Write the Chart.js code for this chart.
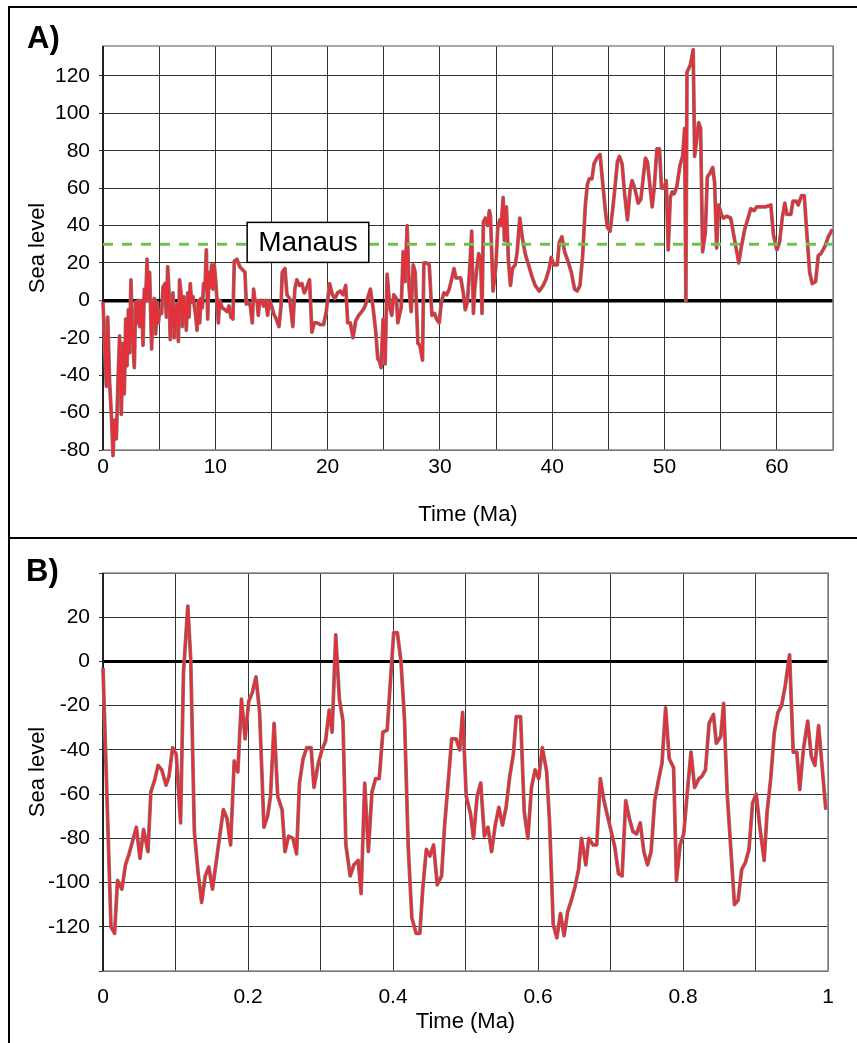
<!DOCTYPE html>
<html>
<head>
<meta charset="utf-8">
<title>Sea level</title>
<script src="https://cdn.jsdelivr.net/npm/chart.js@4.4.1/dist/chart.umd.min.js"></script>
<style>
    html, body { margin: 0; padding: 0; background: #fff; }
    #page { position: relative; width: 857px; height: 1043px; overflow: hidden; font-family: 'Liberation Sans', Arial, Helvetica, sans-serif; }
    #page canvas { position: absolute; left: 0; }
    .frame { position: absolute; left: 8px; width: 900px; border-left: 2px solid #000; border-top: 2px solid #000; }
    #frame-a { top: 6px; height: 540px; }
    #frame-b { top: 537px; height: 520px; }
    .panel-tag { position: absolute; font-weight: bold; font-size: 31px; line-height: 1; color: #000; }
</style>
</head>
<body>
<div id="page">
    <div class="frame" id="frame-a"></div>
    <div class="frame" id="frame-b"></div>
    <canvas id="chart-a" width="857" height="537" style="top:0"></canvas>
    <canvas id="chart-b" width="857" height="506" style="top:537px"></canvas>
    <div class="panel-tag" style="left:27px;top:22px">A)</div>
    <div class="panel-tag" style="left:26px;top:555px">B)</div>
</div>
<script>
// Panel A: last 65 Ma (time in Ma, sea level in m)
var timeA = [
    0, 0.30, 0.42, 0.59, 0.77, 0.89, 1.04, 1.19, 1.34, 1.48,
    1.63, 1.78, 1.90, 2.02, 2.14, 2.26, 2.37, 2.49, 2.61, 2.79,
    2.91, 3.03, 3.15, 3.26, 3.44, 3.56, 3.68, 3.80, 3.92, 4.04,
    4.15, 4.33, 4.45, 4.57, 4.69, 4.81, 4.93, 5.04, 5.22, 5.34,
    5.52, 5.64, 5.76, 5.88, 5.99, 6.11, 6.23, 6.35, 6.47, 6.59,
    6.71, 6.82, 6.94, 7.06, 7.18, 7.30, 7.42, 7.54, 7.66, 7.77,
    7.89, 8.01, 8.13, 8.25, 8.37, 8.49, 8.61, 8.72, 8.84, 8.96,
    9.08, 9.20, 9.32, 9.44, 9.55, 9.67, 9.79, 9.91, 10.03, 10.15,
    10.27, 10.39, 10.62, 10.86, 11.04, 11.22, 11.39, 11.57, 11.69, 11.93,
    12.17, 12.64, 12.76, 12.94, 13.12, 13.29, 13.41, 13.53, 13.71, 13.83,
    13.95, 14.12, 14.30, 14.48, 14.66, 14.84, 15.01, 15.19, 15.43, 15.67,
    15.85, 15.96, 16.20, 16.38, 16.62, 16.90, 17.08, 17.26, 17.50, 17.71,
    17.92, 18.15, 18.39, 18.60, 18.81, 19.05, 19.35, 19.64, 19.88, 20.18,
    20.42, 20.65, 20.89, 21.13, 21.37, 21.61, 21.79, 22.02, 22.26, 22.50,
    22.77, 23.04, 23.27, 23.51, 23.81, 24.05, 24.29, 24.46, 24.64, 24.76,
    24.94, 25.12, 25.30, 25.54, 25.71, 25.89, 26.13, 26.25, 26.43, 26.55,
    26.73, 26.90, 27.08, 27.26, 27.44, 27.62, 27.80, 28.04, 28.21, 28.45,
    28.57, 28.81, 29.05, 29.29, 29.52, 29.70, 29.94, 30.12, 30.36, 30.60,
    30.83, 31.07, 31.25, 31.43, 31.85, 32.08, 32.26, 32.44, 32.62, 32.83,
    32.98, 33.10, 33.27, 33.45, 33.63, 33.75, 33.87, 34.05, 34.26, 34.40,
    34.50, 34.73, 34.97, 35.15, 35.33, 35.45, 35.63, 35.74, 35.92, 36.10,
    36.28, 36.46, 36.70, 36.88, 37.11, 37.35, 37.59, 37.89, 38.18, 38.48,
    38.84, 39.20, 39.43, 39.73, 39.91, 40.15, 40.45, 40.63, 40.86, 41.10,
    41.40, 41.70, 41.99, 42.23, 42.47, 42.71, 42.95, 43.13, 43.30, 43.54,
    43.72, 43.96, 44.26, 44.49, 44.73, 44.91, 45.15, 45.39, 45.63, 45.80,
    45.98, 46.22, 46.46, 46.70, 46.93, 47.11, 47.35, 47.65, 47.89, 48.13,
    48.30, 48.48, 48.72, 48.90, 49.08, 49.32, 49.55, 49.73, 49.97, 50.15,
    50.33, 50.51, 50.68, 50.86, 51.10, 51.37, 51.61, 51.79, 51.90, 52.00,
    52.30, 52.55, 52.68, 52.86, 53.04, 53.21, 53.39, 53.63, 53.81, 54.05,
    54.29, 54.46, 54.64, 54.82, 55.06, 55.24, 55.54, 55.89, 56.13, 56.37,
    56.61, 56.85, 57.14, 57.44, 57.68, 57.98, 58.21, 58.63, 58.99, 59.46,
    59.70, 60.00, 60.24, 60.48, 60.71, 60.89, 61.25, 61.43, 61.73, 61.90,
    62.20, 62.44, 62.68, 62.92, 63.15, 63.45, 63.69, 63.93, 64.29, 64.58,
    64.94
];
var levelA = [
    -1, -46, -9, -44, -64, -83, -64, -74, -42, -19,
    -61, -23, -50, -10, -35, -5, -28, 11, -17, -36,
    -1, -12, 0, -14, 0, -24, 6, 0, 22, 0,
    15, -26, -2, 1, -18, -1, -12, -6, -7, 7,
    9, -9, 18, 4, -21, -9, 4, -20, -5, -2,
    -22, 11, 4, -14, 2, -3, -16, 4, -9, 9,
    -1, 2, -3, -8, -16, 0, -12, 1, -4, 9,
    6, 27, -10, 15, 7, 19, 6, 19, 11, 0,
    -12, 0, -4, -5, -6, -3, -9, -10, 21, 22,
    18, 15, -2, -1, -3, -12, 6, 0, 0, -8,
    0, 0, -3, 0, -8, 0, -3, -7, -10, -14,
    -3, 15, 17, 3, 1, -14, 6, 11, 8, 9,
    4, 7, 11, -17, -12, -12, -13, -13, -6, 9,
    3, 1, 4, 5, 3, 8, -12, -12, -20, -11,
    -8, -6, -4, 0, 6, -4, -17, -31, -33, -36,
    -10, -34, 14, -4, -8, 3, 1, -12, -7, -4,
    26, 10, 40, 6, -6, 19, 15, -23, -24, -32,
    20, 20, 19, -8, -7, -10, -12, -1, 4, 3,
    6, 12, 17, 12, 12, 4, -5, -1, 14, 37,
    -7, 6, 16, 25, 22, -7, 42, 44, 40, 48,
    45, 5, 17, 39, 43, 40, 55, 32, 50, 21,
    8, 17, 19, 26, 44, 33, 25, 19, 13, 8,
    5, 8, 11, 17, 23, 19, 19, 31, 34, 26,
    21, 15, 6, 5, 8, 24, 51, 62, 65, 65,
    73, 76, 78, 63, 48, 39, 37, 49, 63, 74,
    77, 73, 56, 43, 59, 64, 60, 52, 54, 67,
    76, 74, 60, 50, 60, 81, 81, 60, 60, 64,
    27, 55, 58, 57, 61, 72, 77, 92, 0, 122,
    126, 134, 77, 86, 95, 92, 26, 36, 66, 68,
    71, 63, 28, 51, 46, 44, 45, 44, 36, 28,
    20, 29, 38, 44, 49, 48, 50, 50, 50, 51,
    35, 27, 31, 44, 52, 46, 46, 53, 53, 51,
    56, 56, 35, 15, 9, 10, 24, 25, 29, 34,
    38
];

// Panel B: last 1 Ma
var timeB = [
    0, 0.011, 0.016, 0.020, 0.026, 0.031, 0.036, 0.041, 0.046, 0.051,
    0.056, 0.062, 0.066, 0.071, 0.076, 0.081, 0.087, 0.091, 0.096, 0.101,
    0.107, 0.111, 0.117, 0.121, 0.126, 0.131, 0.136, 0.141, 0.146, 0.151,
    0.156, 0.161, 0.166, 0.171, 0.176, 0.181, 0.186, 0.191, 0.196, 0.201,
    0.206, 0.211, 0.216, 0.222, 0.227, 0.231, 0.236, 0.241, 0.247, 0.251,
    0.256, 0.262, 0.267, 0.271, 0.276, 0.281, 0.287, 0.291, 0.297, 0.302,
    0.307, 0.312, 0.316, 0.321, 0.326, 0.331, 0.335, 0.341, 0.346, 0.352,
    0.356, 0.361, 0.366, 0.371, 0.376, 0.381, 0.386, 0.392, 0.396, 0.401,
    0.406, 0.411, 0.416, 0.421, 0.426, 0.432, 0.437, 0.441, 0.446, 0.451,
    0.456, 0.461, 0.467, 0.471, 0.476, 0.481, 0.487, 0.492, 0.496, 0.501,
    0.507, 0.511, 0.516, 0.521, 0.526, 0.531, 0.536, 0.541, 0.546, 0.551,
    0.556, 0.561, 0.566, 0.570, 0.576, 0.581, 0.586, 0.591, 0.596, 0.601,
    0.606, 0.612, 0.616, 0.621, 0.626, 0.631, 0.636, 0.641, 0.646, 0.651,
    0.656, 0.660, 0.666, 0.670, 0.676, 0.681, 0.686, 0.691, 0.696, 0.706,
    0.711, 0.716, 0.721, 0.726, 0.731, 0.736, 0.741, 0.746, 0.751, 0.756,
    0.761, 0.766, 0.771, 0.776, 0.781, 0.787, 0.791, 0.796, 0.801, 0.806,
    0.811, 0.816, 0.822, 0.826, 0.831, 0.836, 0.842, 0.846, 0.852, 0.856,
    0.861, 0.866, 0.871, 0.876, 0.881, 0.886, 0.891, 0.896, 0.901, 0.906,
    0.912, 0.916, 0.921, 0.926, 0.931, 0.936, 0.941, 0.947, 0.952, 0.957,
    0.961, 0.966, 0.972, 0.977, 0.982, 0.987, 0.997
];
var levelB = [
    -3, -120, -123, -99, -103, -92, -87, -81, -75, -89,
    -76, -86, -59, -54, -47, -49, -56, -52, -39, -42,
    -73, -5, 25, 1, -77, -95, -109, -97, -93, -103,
    -91, -79, -67, -71, -83, -45, -50, -17, -35, -18,
    -14, -7, -23, -75, -70, -61, -28, -61, -67, -86,
    -79, -80, -87, -55, -44, -39, -39, -57, -46, -40,
    -36, -22, -32, 12, -17, -27, -83, -97, -92, -90,
    -105, -55, -86, -59, -53, -53, -32, -31, -11, 13,
    13, 0, -27, -84, -116, -123, -123, -103, -85, -88,
    -83, -101, -97, -75, -55, -35, -35, -40, -23, -61,
    -69, -80, -61, -55, -79, -75, -86, -74, -66, -74,
    -66, -52, -42, -25, -25, -68, -80, -57, -49, -53,
    -39, -50, -73, -119, -125, -114, -124, -113, -108, -102,
    -94, -80, -92, -80, -83, -83, -53, -63, -70, -84,
    -96, -97, -63, -71, -77, -78, -73, -86, -92, -86,
    -63, -54, -46, -21, -44, -48, -99, -83, -78, -59,
    -41, -57, -53, -52, -49, -28, -24, -37, -34, -19,
    -60, -85, -110, -108, -94, -91, -85, -64, -60, -75,
    -90, -68, -53, -32, -23, -20, -11, 3, -41, -41,
    -58, -40, -27, -43, -47, -29, -67
];

// reference level for Manaus
var manausLevel = 30;
var manausLabel = 'Manaus';
var manausLabelTime = 18.25;
var manausLabelLevel = 31;

(function (window, document) {
    'use strict';

    var FONT = "'Liberation Sans', Arial, Helvetica, sans-serif";
    var RED = '#e1323b';
    var GRID = '#333';
    var TICK_SIZE = 21;
    var TITLE_SIZE = 22;

    Chart.defaults.font.family = FONT;
    Chart.defaults.color = '#000';

    function toPoints(xs, ys) {
        return xs.map(function (x, i) {
            return { x: x, y: ys[i] };
        });
    }

    function seriesDatasets(points) {
        return [
            {
                data: points,
                borderColor: RED,
                borderWidth: 2.6,
                borderJoinStyle: 'round',
                pointRadius: 0,
                tension: 0,
                clip: false,
                order: 1,
            },
            {
                // grey fringe under the red line
                data: points,
                borderColor: '#808080',
                borderWidth: 3.8,
                borderJoinStyle: 'round',
                pointRadius: 0,
                tension: 0,
                clip: false,
                order: 2,
            },
        ];
    }

    // grey box round the plot area, black left axis
    var framePlugin = {
        id: 'plotFrame',
        beforeDatasetsDraw: function (chart) {
            var a = chart.chartArea;
            var ctx = chart.ctx;
            ctx.save();
            ctx.lineWidth = 1.5;
            ctx.strokeStyle = '#8a8a8a';
            ctx.strokeRect(a.left, a.top, a.right - a.left, a.bottom - a.top);
            ctx.strokeStyle = '#000';
            ctx.beginPath();
            ctx.moveTo(a.left, a.top);
            ctx.lineTo(a.left, a.bottom);
            ctx.stroke();
            ctx.restore();
        },
    };

    var manausPlugin = {
        id: 'manausLabel',
        afterDatasetsDraw: function (chart) {
            var ctx = chart.ctx;
            var cx = chart.scales.x.getPixelForValue(manausLabelTime);
            var cy = chart.scales.y.getPixelForValue(manausLabelLevel);
            ctx.save();
            ctx.font = '28px ' + FONT;
            var w = ctx.measureText(manausLabel).width + 22;
            var h = 40;
            ctx.fillStyle = '#fff';
            ctx.fillRect(cx - w / 2, cy - h / 2, w, h);
            ctx.lineWidth = 1.5;
            ctx.strokeStyle = '#000';
            ctx.strokeRect(cx - w / 2, cy - h / 2, w, h);
            ctx.fillStyle = '#000';
            ctx.textAlign = 'center';
            ctx.textBaseline = 'middle';
            ctx.fillText(manausLabel, cx, cy + 1);
            ctx.restore();
        },
    };

    function gridOptions(zeroWidth) {
        return {
            color: function (c) {
                return c.tick && c.tick.value === 0 ? '#000' : GRID;
            },
            lineWidth: function (c) {
                return c.tick && c.tick.value === 0 ? zeroWidth : 1;
            },
            tickColor: GRID,
            tickWidth: 1,
            tickLength: 4,
        };
    }

    function baseOptions() {
        return {
            responsive: false,
            animation: false,
            devicePixelRatio: 1,
            events: [],
            plugins: {
                legend: { display: false },
                tooltip: { enabled: false },
            },
        };
    }

    function createPanelA() {
        var canvas = document.getElementById('chart-a');
        var points = toPoints(timeA, levelA);
        var datasets = seriesDatasets(points);

        datasets.push({
            data: [{ x: 0, y: manausLevel }, { x: 65, y: manausLevel }],
            borderColor: '#6fc04c',
            borderWidth: 3,
            borderDash: [10, 9],
            pointRadius: 0,
            clip: false,
            order: 0,
        });

        var options = baseOptions();
        options.layout = { padding: { top: 46, right: 24, bottom: 0, left: 0 } };
        options.scales = {
            x: {
                type: 'linear',
                min: 0,
                max: 65,
                afterFit: function (scale) {
                    scale.height = 87;
                },
                ticks: {
                    stepSize: 5,
                    autoSkip: false,
                    maxRotation: 0,
                    padding: 5,
                    font: { size: TICK_SIZE },
                    callback: function (value) {
                        return value % 10 === 0 ? String(value) : '';
                    },
                },
                grid: { color: GRID, lineWidth: 1, drawTicks: false },
                border: { display: false },
                title: {
                    display: true,
                    text: 'Time (Ma)',
                    font: { size: TITLE_SIZE },
                    padding: { top: 0, bottom: 9 },
                },
            },
            y: {
                min: -80,
                max: 136,
                afterFit: function (scale) {
                    scale.width = 103;
                },
                afterBuildTicks: function (scale) {
                    scale.ticks = scale.ticks.filter(function (t) {
                        return t.value <= 120;
                    });
                },
                ticks: {
                    stepSize: 20,
                    padding: 9,
                    font: { size: TICK_SIZE },
                },
                grid: gridOptions(3.5),
                border: { display: false },
                title: {
                    display: true,
                    text: 'Sea level',
                    font: { size: TITLE_SIZE },
                    padding: { top: 25, bottom: 0 },
                },
            },
        };

        return new Chart(canvas, {
            type: 'line',
            data: { datasets: datasets },
            options: options,
            plugins: [framePlugin, manausPlugin],
        });
    }

    function createPanelB() {
        var canvas = document.getElementById('chart-b');
        var points = toPoints(timeB, levelB);

        var options = baseOptions();
        options.layout = { padding: { top: 36, right: 29, bottom: 0, left: 0 } };
        options.scales = {
            x: {
                type: 'linear',
                min: 0,
                max: 1,
                afterFit: function (scale) {
                    scale.height = 72;
                },
                ticks: {
                    stepSize: 0.1,
                    autoSkip: false,
                    maxRotation: 0,
                    padding: 14,
                    font: { size: TICK_SIZE },
                    callback: function (value) {
                        var k = Math.round(value * 10);
                        return k % 2 === 0 ? String(k / 10) : '';
                    },
                },
                grid: { color: GRID, lineWidth: 1, drawTicks: false },
                border: { display: false },
                title: {
                    display: true,
                    text: 'Time (Ma)',
                    font: { size: TITLE_SIZE },
                    padding: { top: 0, bottom: 8 },
                },
            },
            y: {
                min: -140,
                max: 40,
                afterFit: function (scale) {
                    scale.width = 103;
                },
                ticks: {
                    stepSize: 20,
                    padding: 9,
                    font: { size: TICK_SIZE },
                    callback: function (value) {
                        return value === -140 || value === 40 ? '' : String(value);
                    },
                },
                grid: gridOptions(3),
                border: { display: false },
                title: {
                    display: true,
                    text: 'Sea level',
                    font: { size: TITLE_SIZE },
                    padding: { top: 25, bottom: 0 },
                },
            },
        };

        return new Chart(canvas, {
            type: 'line',
            data: { datasets: seriesDatasets(points) },
            options: options,
            plugins: [framePlugin],
        });
    }

    function init() {
        if (typeof Chart === 'undefined') {
            return;
        }
        createPanelA();
        createPanelB();
    }

    if (document.readyState === 'loading') {
        document.addEventListener('DOMContentLoaded', init);
    } else {
        init();
    }
})(window, document);
</script>
</body>
</html>
